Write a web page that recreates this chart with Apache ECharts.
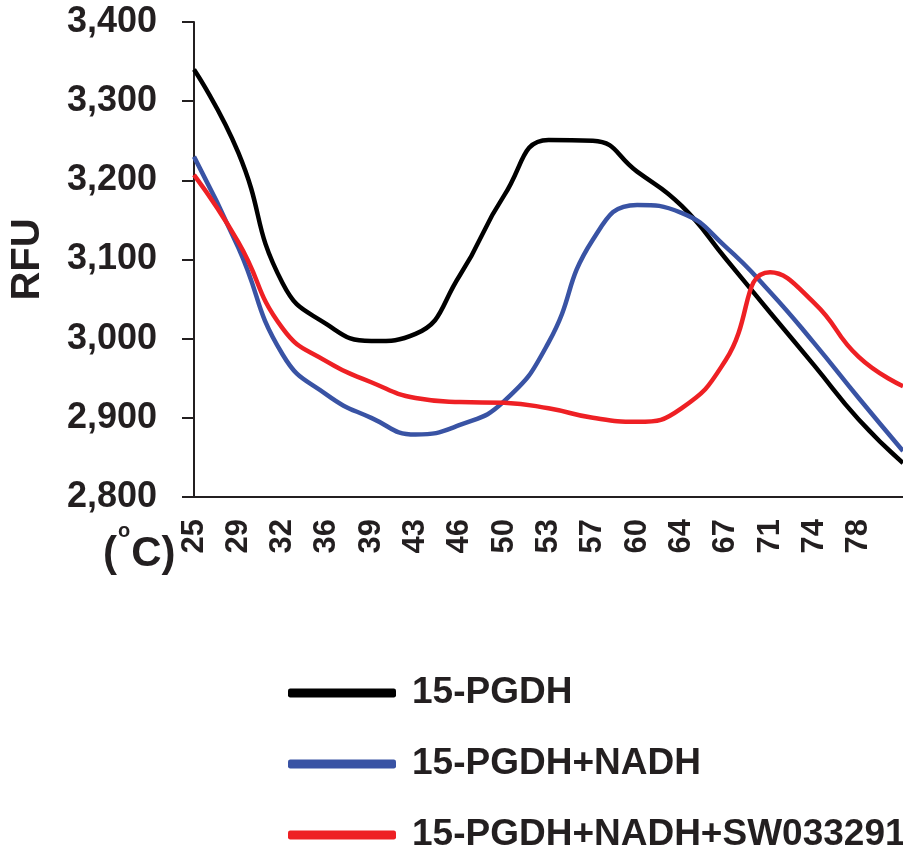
<!DOCTYPE html>
<html>
<head>
<meta charset="utf-8">
<script src="https://cdn.jsdelivr.net/npm/echarts@6/dist/echarts.min.js"></script>
<style>html,body{margin:0;padding:0;background:#fff;}#c{width:903px;height:850px;}</style>
</head>
<body>
<div id="c"></div>
<script>
// Temperatures (°C); the last one lies just past the cropped right edge
var categories = ['25','29','32','36','39','43','46','50','53','57','60','64','67','71','74','78','81'];
var pgdh =        [3340, 3235, 3070, 3018, 2997, 3006, 3080, 3181, 3251, 3250, 3211, 3168, 3101, 3033, 2966, 2898, 2843];
var pgdhNadh =    [3230, 3115, 2980, 2929, 2900, 2879, 2891, 2921, 2995, 3125, 3169, 3159, 3116, 3059, 2994, 2925, 2858];
var pgdhNadhSw =  [3207, 3122, 3013, 2971, 2945, 2925, 2920, 2919, 2912, 2900, 2895, 2912, 2973, 3084, 3045, 2977, 2940];
var seriesNames = ['15-PGDH', '15-PGDH+NADH', '15-PGDH+NADH+SW033291'];
var yMin = 2800, yMax = 3400, yStep = 100;
var hiddenLabels = ['81'];

var FONT = '"Liberation Sans", Arial, sans-serif';
var TXT = '#231f20';
var chart = echarts.init(document.getElementById('c'), null, {renderer: 'canvas'});
function mk(name, data, color) {
  return {
    name: name, type: 'line', data: data, smooth: 0.5, showSymbol: false,
    symbol: 'none', lineStyle: {color: color, width: 4.5}, itemStyle: {color: color},
    animation: false
  };
}
chart.setOption({
  animation: false,
  backgroundColor: '#ffffff',
  grid: {left: 193, right: -11, top: 22, bottom: 353, containLabel: false},
  title: {
    text: '{p|(}{s|o}{p|C)}',
    left: 98, top: 516,
    textStyle: {
      rich: {
        p: {fontFamily: FONT, fontWeight: 'bold', fontSize: 42, color: TXT, verticalAlign: 'bottom', lineHeight: 54},
        s: {fontFamily: FONT, fontWeight: 'bold', fontSize: 20, color: TXT, verticalAlign: 'top', lineHeight: 54, padding: [0, 1, 24, 1]}
      }
    }
  },
  legend: {
    orient: 'vertical', left: 283, top: 668, height: 200,
    icon: 'roundRect', itemWidth: 108, itemHeight: 9, itemGap: 31,
    textStyle: {fontFamily: FONT, fontWeight: 'bold', fontSize: 37, lineHeight: 40, color: TXT, padding: [0, 0, 0, 11]},
    data: seriesNames
  },
  xAxis: {
    type: 'category', data: categories, boundaryGap: false,
    axisLine: {lineStyle: {color: '#231f20', width: 2}},
    axisTick: {show: false},
    axisLabel: {
      rotate: 90, margin: 22, interval: 0,
      fontFamily: FONT, fontWeight: 'bold', fontSize: 31, color: TXT,
      formatter: function (v) { return hiddenLabels.indexOf(v) >= 0 ? '' : v; }
    },
    splitLine: {show: false}
  },
  yAxis: {
    type: 'value', min: yMin, max: yMax, interval: yStep,
    name: 'RFU', nameLocation: 'middle', nameGap: 146, nameRotate: 90,
    nameTextStyle: {fontFamily: FONT, fontWeight: 'bold', fontSize: 40, color: TXT},
    axisLine: {show: true, lineStyle: {color: '#231f20', width: 2}},
    axisTick: {show: true, inside: false, length: 12, lineStyle: {color: '#231f20', width: 2}},
    axisLabel: {
      margin: 37, fontFamily: FONT, fontWeight: 'bold', fontSize: 36, color: TXT,
      formatter: function (v) { return v.toLocaleString('en-US'); }
    },
    splitLine: {show: false}
  },
  series: [
    mk(seriesNames[0], pgdh, '#000000'),
    mk(seriesNames[1], pgdhNadh, '#3953a4'),
    mk(seriesNames[2], pgdhNadhSw, '#ee2024')
  ]
});
</script>
</body>
</html>
